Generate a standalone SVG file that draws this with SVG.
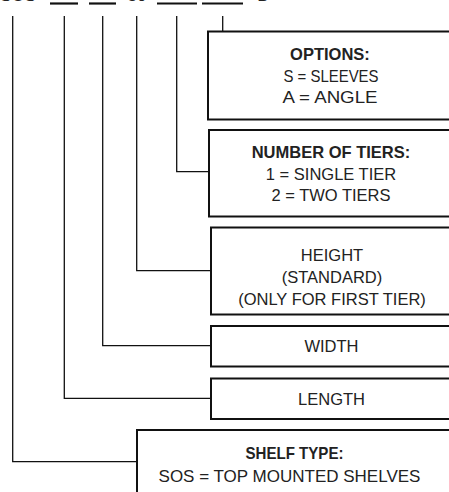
<svg xmlns="http://www.w3.org/2000/svg" width="449" height="492" viewBox="0 0 449 492">
  <style>
    .box { fill: #fff; stroke: #111; stroke-width: 2; }
    .wire { fill: none; stroke: #111; stroke-width: 1.3; }
    .bar { stroke: #111; stroke-width: 2.2; }
    text { font-family: "Liberation Sans", Arial, sans-serif; font-size: 16.5px; fill: #222; text-anchor: middle; }
    .hd { font-weight: bold; }
    .big { font-size: 17px; }
  </style>
  <rect width="449" height="492" fill="#fff"/>

  <!-- part number code line (runs off the top edge) -->
  <g id="code">
    <text x="18" y="1" class="big">SOS</text>
    <line class="bar" x1="50" y1="3.5" x2="78" y2="3.5"/>
    <line class="bar" x1="89" y1="3.5" x2="116" y2="3.5"/>
    <text x="137" y="1" class="big">30</text>
    <line class="bar" x1="157" y1="3.5" x2="197" y2="3.5"/>
    <line class="bar" x1="202" y1="3.5" x2="243" y2="3.5"/>
    <text x="263" y="1" class="big">B</text>
  </g>

  <!-- leader lines from each code position to its description -->
  <g id="connectors">
    <polyline class="wire" points="12.7,16 12.7,461.7 137,461.7"/>
    <polyline class="wire" points="64.3,16 64.3,398.3 211,398.3"/>
    <polyline class="wire" points="102.7,16 102.7,345.7 211,345.7"/>
    <polyline class="wire" points="136.7,16 136.7,270.7 211,270.7"/>
    <polyline class="wire" points="176.7,16 176.7,171.7 209,171.7"/>
    <polyline class="wire" points="222.7,16 222.7,31.5"/>
  </g>

  <g id="options">
    <rect class="box" x="208" y="31.5" width="250" height="88"/>
    <text x="330" y="60" class="hd">OPTIONS:</text>
    <text x="331" y="81.5" textLength="95" lengthAdjust="spacingAndGlyphs">S = SLEEVES</text>
    <text x="330" y="103" textLength="95" lengthAdjust="spacingAndGlyphs">A = ANGLE</text>
  </g>

  <g id="tiers">
    <rect class="box" x="209" y="130" width="250" height="86.5"/>
    <text x="331" y="158" class="hd">NUMBER OF TIERS:</text>
    <text x="331" y="179.5">1 = SINGLE TIER</text>
    <text x="331" y="201">2 = TWO TIERS</text>
  </g>

  <g id="height">
    <rect class="box" x="211" y="227.5" width="250" height="87"/>
    <text x="332" y="261">HEIGHT</text>
    <text x="332" y="283">(STANDARD)</text>
    <text x="332" y="305">(ONLY FOR FIRST TIER)</text>
  </g>

  <g id="width">
    <rect class="box" x="211" y="326" width="250" height="40.5"/>
    <text x="331.5" y="352">WIDTH</text>
  </g>

  <g id="length">
    <rect class="box" x="211" y="378.5" width="250" height="40.5"/>
    <text x="331.5" y="404.5">LENGTH</text>
  </g>

  <g id="shelf-type">
    <rect class="box" x="137" y="430" width="330" height="80"/>
    <text x="294.5" y="458.5" class="hd" textLength="98" lengthAdjust="spacingAndGlyphs">SHELF TYPE:</text>
    <text x="289.5" y="481.5" class="big">SOS = TOP MOUNTED SHELVES</text>
  </g>
</svg>
